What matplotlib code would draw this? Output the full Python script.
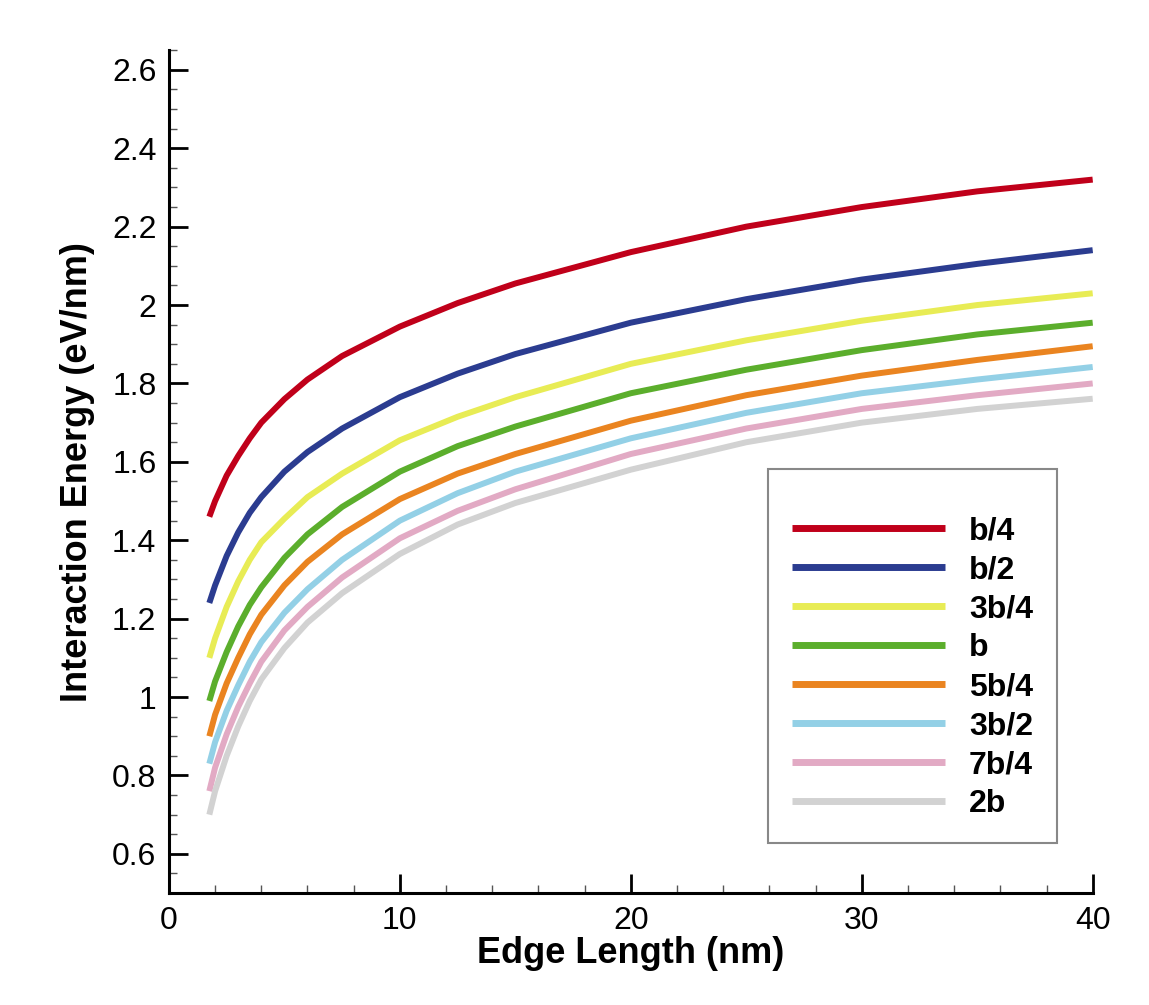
import matplotlib.pyplot as plt
from matplotlib.ticker import MultipleLocator

plt.rcParams['font.family'] = ['Liberation Sans', 'DejaVu Sans']

edge_length = [1.75, 2, 2.5, 3, 3.5, 4, 5, 6, 7.5, 10, 12.5, 15, 20, 25, 30, 35, 40]

e_b4 = [1.46, 1.50, 1.565, 1.615, 1.66, 1.70, 1.76, 1.81, 1.87, 1.945, 2.005, 2.055, 2.135, 2.20, 2.25, 2.29, 2.32]
e_b2 = [1.24, 1.285, 1.36, 1.42, 1.47, 1.51, 1.575, 1.625, 1.685, 1.765, 1.825, 1.875, 1.955, 2.015, 2.065, 2.105, 2.14]
e_3b4 = [1.10, 1.15, 1.23, 1.295, 1.35, 1.395, 1.455, 1.51, 1.57, 1.655, 1.715, 1.765, 1.85, 1.91, 1.96, 2.00, 2.03]
e_b = [0.99, 1.04, 1.115, 1.18, 1.235, 1.28, 1.355, 1.415, 1.485, 1.575, 1.64, 1.69, 1.775, 1.835, 1.885, 1.925, 1.955]
e_5b4 = [0.90, 0.955, 1.035, 1.10, 1.16, 1.21, 1.285, 1.345, 1.415, 1.505, 1.57, 1.62, 1.705, 1.77, 1.82, 1.86, 1.895]
e_3b2 = [0.83, 0.885, 0.965, 1.03, 1.09, 1.14, 1.215, 1.275, 1.35, 1.45, 1.52, 1.575, 1.66, 1.725, 1.775, 1.81, 1.842]
e_7b4 = [0.76, 0.82, 0.905, 0.975, 1.035, 1.09, 1.17, 1.23, 1.305, 1.405, 1.475, 1.53, 1.62, 1.685, 1.735, 1.77, 1.80]
e_2b = [0.70, 0.76, 0.85, 0.925, 0.99, 1.045, 1.125, 1.19, 1.265, 1.365, 1.44, 1.495, 1.58, 1.65, 1.70, 1.735, 1.761]

labels = ["b/4", "b/2", "3b/4", "b", "5b/4", "3b/2", "7b/4", "2b"]
series = [e_b4, e_b2, e_3b4, e_b, e_5b4, e_3b2, e_7b4, e_2b]
colors = ["#C0001A", "#2B3C90", "#E8EC55", "#5BAE2C", "#EA8420", "#93D0E6", "#E2AAC4", "#D2D2D2"]

fig = plt.figure(figsize=(11.49, 10.05), dpi=100)
ax = fig.add_axes([0.147, 0.1114, 0.804, 0.8386])

for vals, lab, col in zip(series, labels, colors):
    ax.plot(edge_length, vals, color=col, linewidth=4.3, label=lab, solid_capstyle='butt')

ax.set_xlim(0, 40)
ax.set_ylim(0.5, 2.65)
ax.xaxis.set_major_locator(MultipleLocator(10))
ax.xaxis.set_minor_locator(MultipleLocator(2))
ax.yaxis.set_minor_locator(MultipleLocator(0.05))
ax.set_yticks([0.6, 0.8, 1, 1.2, 1.4, 1.6, 1.8, 2, 2.2, 2.4, 2.6])
ax.set_yticklabels(["0.6", "0.8", "1", "1.2", "1.4", "1.6", "1.8", "2", "2.2", "2.4", "2.6"])

ax.spines['top'].set_visible(False)
ax.spines['right'].set_visible(False)
ax.spines['left'].set_linewidth(2.2)
ax.spines['bottom'].set_linewidth(2.2)
ax.tick_params(which='major', direction='in', length=14, width=2, labelsize=23, pad=9)
ax.tick_params(which='minor', direction='in', length=6, width=1, color='#555555')

ax.set_xlabel("Edge Length (nm)", fontsize=26, fontweight='bold', labelpad=0)
ax.set_ylabel("Interaction Energy (eV/nm)", fontsize=26, fontweight='bold', labelpad=12)

leg = ax.legend(loc='lower right', bbox_to_anchor=(0.920, 0.161), bbox_transform=fig.transFigure,
                prop={'weight': 'bold', 'size': 23}, handlelength=4.8, handletextpad=0.75,
                labelspacing=0.28, borderpad=0.75, borderaxespad=0, fancybox=False,
                title=" ", title_fontsize=12, framealpha=1)
leg.get_frame().set_edgecolor('#888888')
leg.get_frame().set_linewidth(1.5)
for line in leg.get_lines():
    line.set_linewidth(5)

plt.savefig("out.png", dpi=100)
